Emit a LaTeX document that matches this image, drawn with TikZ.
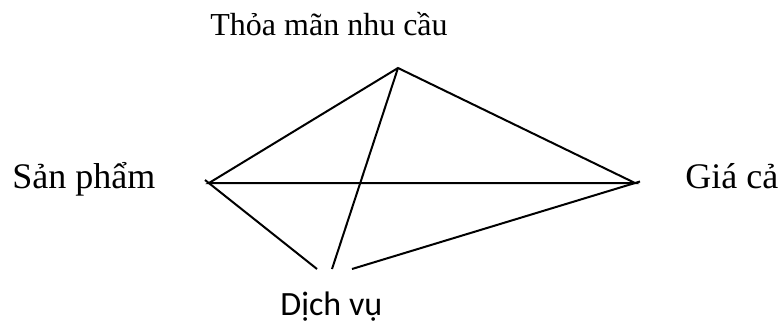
\documentclass[tikz,border=0pt]{standalone}
\usepackage{fontspec}
\setmainfont{Liberation Serif}
\newfontfamily\sansvn{Carlito}
\usetikzlibrary{positioning}
\tikzset{
  edge/.style={black,line width=1pt},
  lbl/.style={inner sep=0pt,anchor=base west,font=\fontsize{18}{20}\selectfont},
}

\begin{document}
\begin{tikzpicture}[x=0.5pt,y=-0.5pt]
  \useasboundingbox (0,0) rectangle (782,321);
  % corners
  \coordinate (tip) at (398,68);
  \coordinate (lft) at (209,183);
  \coordinate (rgt) at (635,183);
  % ends hidden by the bottom label
  \coordinate (endL) at (317,269);
  \coordinate (endT) at (332,269);
  \coordinate (endR) at (352,269);
  % labels
  \node[lbl,font=\fontsize{16}{18}\selectfont] (need) at (210,35) {Thỏa mãn nhu cầu};
  \node[lbl] (prod) at (12,188) {Sản phẩm};
  \node[lbl] (price) at (685,188) {Giá cả};
  \node[lbl,font=\sansvn\fontsize{17}{19}\selectfont] (serv) at (280,315) {Dịch vụ};
  % lines
  \draw[edge] (lft) -- (tip) -- (rgt) -- cycle;
  \draw[edge] (tip) -- (endT);
  \draw[edge] ([shift={(-4,-3)}]lft) -- (endL);
  \draw[edge] ([shift={(5,-1.5)}]rgt) -- (endR);
\end{tikzpicture}
\end{document}
